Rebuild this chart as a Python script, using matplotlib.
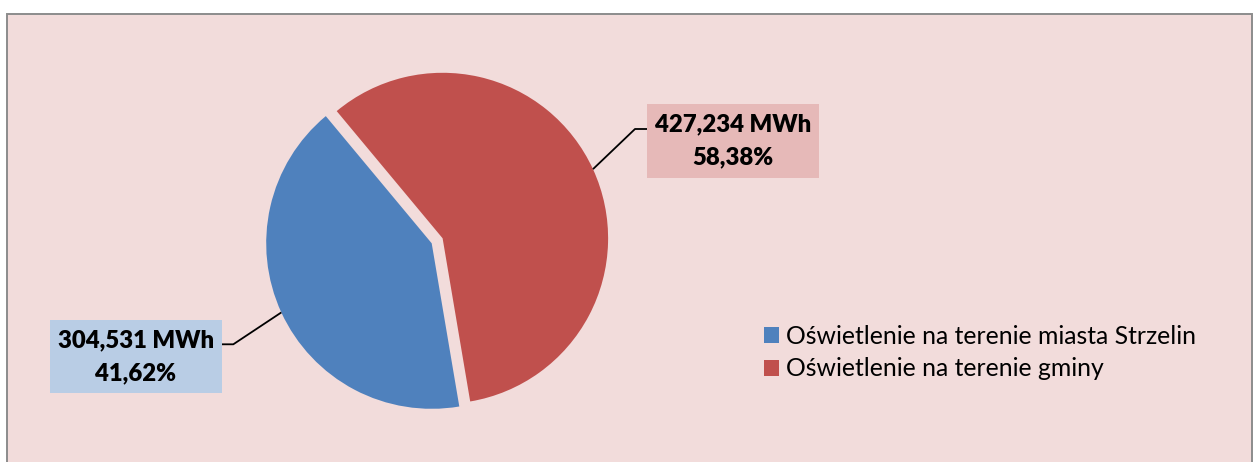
import matplotlib.pyplot as plt
import numpy as np
from matplotlib.patches import Rectangle

# data
labels = ["Oświetlenie na terenie miasta Strzelin", "Oświetlenie na terenie gminy"]
values_mwh = [304.531, 427.234]
colors = ["#4F81BD", "#C0504D"]
box_colors = ["#B9CDE5", "#E6B9B8"]

W, H = 1253, 462
CX, CY, R = 431.7, H - 243.3, 165.5


def fmt_mwh(v):
    return f"{v:.3f}".replace(".", ",") + " MWh"


def fmt_pct(p):
    return f"{p:.2f}".replace(".", ",") + "%"


plt.rcParams["font.family"] = ["Lato", "DejaVu Sans"]

fig = plt.figure(figsize=(W / 100, H / 100), dpi=100, facecolor="white")
ax = fig.add_axes([0, 0, 1, 1])

# chart area
ax.add_patch(Rectangle((6.5, -10), 1245, H - 13.5 + 10, facecolor="#F2DCDB",
                       edgecolor="#8C8C8C", linewidth=1.4, zorder=0))

total = sum(values_mwh)
wedges, _ = ax.pie(values_mwh, colors=colors, startangle=-80.4, counterclock=False,
                   explode=[0, 12.0], center=(CX, CY), radius=R,
                   frame=True, wedgeprops=dict(linewidth=0))

# label boxes (x0, x1, y_top, y_bottom in pixel coords from top) and leader elbow
boxes = [(50, 221.7, 320, 393.3), (647, 819, 104, 178)]
elbows = [(233.3, 221.7, 344.3), (635, 647, 129)]

for i, w in enumerate(wedges):
    x0, x1, yt, yb = boxes[i]
    ax.add_patch(Rectangle((x0, H - yb), x1 - x0, yb - yt, facecolor=box_colors[i],
                           edgecolor="none", zorder=3))
    xc = (x0 + x1) / 2
    ym = H - (yt + yb) / 2
    pct = values_mwh[i] / total * 100
    ax.text(xc, ym + 16.5, fmt_mwh(values_mwh[i]), ha="center", va="center",
            fontsize=17.2, fontweight="heavy", color="black", zorder=4)
    ax.text(xc, ym - 16.5, fmt_pct(pct), ha="center", va="center",
            fontsize=17.2, fontweight="heavy", color="black", zorder=4)
    # leader line from wedge mid-edge
    mid = np.deg2rad((w.theta1 + w.theta2) / 2)
    ex = w.center[0] + R * np.cos(mid)
    ey = w.center[1] + R * np.sin(mid)
    bx, bend, by = elbows[i]
    ax.plot([ex, bx, bend], [ey, H - by, H - by], color="black", lw=1.3, zorder=2,
            solid_capstyle="butt")

leg = ax.legend(wedges, labels, loc="upper left", bbox_to_anchor=(764, H - 325),
                bbox_transform=ax.transData, frameon=False, fontsize=17.8,
                handlelength=0.61, handleheight=0.61, handletextpad=0.28,
                labelspacing=0.38, borderpad=0, borderaxespad=0)

ax.set_xlim(0, W)
ax.set_ylim(0, H)
ax.set_aspect("equal")
ax.axis("off")

fig.savefig("out.png", dpi=100, facecolor="white")
